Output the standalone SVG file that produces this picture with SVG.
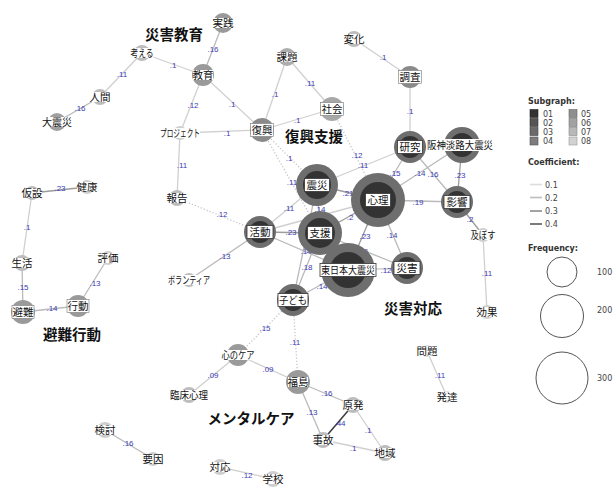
<svg xmlns="http://www.w3.org/2000/svg" width="615" height="488" viewBox="0 0 615 488">
<style>
.e{stroke-width:1.3;fill:none}
.w1{stroke:#d0d0d0}.w2{stroke:#bababa}.w3{stroke:#9c9c9c}.w4{stroke:#3a3a3a;stroke-width:1.5}
.d{stroke:#c4c4c4;stroke-dasharray:1.2 2}
.el{font-family:"Liberation Sans",Arial,sans-serif;font-size:8px;fill:#3c3cb4;text-anchor:middle}
.nl{font-family:"Noto Sans CJK JP",sans-serif;font-size:10.5px;fill:#111;text-anchor:middle}
.g{font-family:"Noto Sans CJK JP",sans-serif;font-weight:bold;font-size:14.5px;fill:#111;text-anchor:middle}
.ro{fill:#6e6e6e}.ri{fill:#333}
.lb{fill:#fff;stroke:#333;stroke-width:0.8}
.lm{fill:#fff;stroke:#777;stroke-width:0.6}
.lw{fill:#fff}
.lg{font-family:"DejaVu Sans",sans-serif;font-size:8px;fill:#444}
.lh{font-family:"DejaVu Sans",sans-serif;font-size:8px;font-weight:bold;fill:#333}
</style>
<g id="edges">
<line class="e w2" x1="223" y1="23" x2="203" y2="75"/>
<line class="e w1" x1="142" y1="53" x2="203" y2="75"/>
<line class="e w1" x1="142" y1="53" x2="100" y2="97"/>
<line class="e w2" x1="100" y1="97" x2="57" y2="122"/>
<line class="e w1" x1="203" y1="75" x2="180" y2="133"/>
<line class="e w1" x1="203" y1="75" x2="262" y2="130"/>
<line class="e w1" x1="180" y1="133" x2="262" y2="130"/>
<line class="e w1" x1="287" y1="57" x2="262" y2="130"/>
<line class="e w1" x1="287" y1="57" x2="332" y2="109"/>
<line class="e w1" x1="332" y1="109" x2="262" y2="130"/>
<line class="e w1" x1="354" y1="39" x2="410" y2="77"/>
<line class="e w1" x1="410" y1="77" x2="410" y2="147"/>
<line class="e w1" x1="180" y1="133" x2="177" y2="198"/>
<line class="e d" x1="177" y1="198" x2="260" y2="232"/>
<line class="e d" x1="262" y1="130" x2="317" y2="185"/>
<line class="e d" x1="262" y1="130" x2="320" y2="233"/>
<line class="e d" x1="332" y1="109" x2="378" y2="200"/>
<line class="e w1" x1="317" y1="185" x2="410" y2="147"/>
<line class="e w3" x1="317" y1="185" x2="378" y2="200"/>
<line class="e w1" x1="260" y1="232" x2="317" y2="185"/>
<line class="e w2" x1="317" y1="185" x2="320" y2="233"/>
<line class="e w3" x1="378" y1="200" x2="320" y2="233"/>
<line class="e w3" x1="260" y1="232" x2="320" y2="233"/>
<line class="e w1" x1="260" y1="232" x2="378" y2="200"/>
<line class="e w3" x1="378" y1="200" x2="348" y2="270"/>
<line class="e w2" x1="378" y1="200" x2="407" y2="268"/>
<line class="e w3" x1="320" y1="233" x2="348" y2="270"/>
<line class="e w2" x1="320" y1="233" x2="407" y2="268"/>
<line class="e w2" x1="260" y1="232" x2="348" y2="270"/>
<line class="e w1" x1="348" y1="270" x2="407" y2="268"/>
<line class="e w2" x1="293" y1="300" x2="317" y2="185"/>
<line class="e w2" x1="293" y1="300" x2="320" y2="233"/>
<line class="e w2" x1="293" y1="300" x2="348" y2="270"/>
<line class="e w2" x1="189" y1="280" x2="260" y2="232"/>
<line class="e w2" x1="378" y1="200" x2="410" y2="147"/>
<line class="e w2" x1="378" y1="200" x2="462" y2="145"/>
<line class="e w2" x1="410" y1="147" x2="457" y2="202"/>
<line class="e w1" x1="410" y1="147" x2="462" y2="145"/>
<line class="e w3" x1="462" y1="145" x2="457" y2="202"/>
<line class="e w2" x1="378" y1="200" x2="457" y2="202"/>
<line class="e w3" x1="457" y1="202" x2="483" y2="235"/>
<line class="e w1" x1="483" y1="235" x2="487" y2="312"/>
<line class="e w3" x1="32" y1="193" x2="87" y2="187"/>
<line class="e w1" x1="32" y1="193" x2="22" y2="263"/>
<line class="e w2" x1="22" y1="263" x2="23" y2="312"/>
<line class="e w2" x1="23" y1="312" x2="78" y2="306"/>
<line class="e w2" x1="78" y1="306" x2="108" y2="258"/>
<line class="e d" x1="293" y1="300" x2="238" y2="355"/>
<line class="e d" x1="293" y1="300" x2="298" y2="382"/>
<line class="e w1" x1="238" y1="355" x2="298" y2="382"/>
<line class="e w1" x1="238" y1="355" x2="189" y2="395"/>
<line class="e w2" x1="298" y1="382" x2="353" y2="405"/>
<line class="e w2" x1="298" y1="382" x2="323" y2="440"/>
<line class="e w4" x1="353" y1="405" x2="323" y2="440"/>
<line class="e w1" x1="353" y1="405" x2="385" y2="453"/>
<line class="e w1" x1="323" y1="440" x2="385" y2="453"/>
<line class="e w1" x1="427" y1="351" x2="447" y2="397"/>
<line class="e w2" x1="105" y1="430" x2="153" y2="459"/>
<line class="e w1" x1="220" y1="467" x2="273" y2="479"/>
<g id="edge-labels">
<text class="el" x="213" y="52">.16</text>
<text class="el" x="173" y="68">.1</text>
<text class="el" x="122" y="77">.11</text>
<text class="el" x="80" y="111">.16</text>
<text class="el" x="193" y="108">.12</text>
<text class="el" x="232" y="107">.1</text>
<text class="el" x="227" y="136">.1</text>
<text class="el" x="275" y="97">.1</text>
<text class="el" x="310" y="86">.11</text>
<text class="el" x="297" y="123">.1</text>
<text class="el" x="383" y="60">.1</text>
<text class="el" x="410" y="114">.1</text>
<text class="el" x="182" y="168">.11</text>
<text class="el" x="222" y="217">.12</text>
<text class="el" x="289" y="161">.1</text>
<text class="el" x="292" y="185">.11</text>
<text class="el" x="357" y="158">.12</text>
<text class="el" x="363" y="168">.11</text>
<text class="el" x="348" y="196">.21</text>
<text class="el" x="289" y="211">.11</text>
<text class="el" x="320" y="212">.14</text>
<text class="el" x="350" y="220">.2</text>
<text class="el" x="291" y="235">.23</text>
<text class="el" x="365" y="239">.23</text>
<text class="el" x="392" y="238">.14</text>
<text class="el" x="334" y="255">.27</text>
<text class="el" x="363" y="254">.16</text>
<text class="el" x="306" y="254">.14</text>
<text class="el" x="386" y="273">.12</text>
<text class="el" x="306" y="245">.13</text>
<text class="el" x="307" y="270">.18</text>
<text class="el" x="322" y="289">.14</text>
<text class="el" x="225" y="259">.13</text>
<text class="el" x="395" y="176">.15</text>
<text class="el" x="420" y="176">.14</text>
<text class="el" x="433" y="177">.16</text>
<text class="el" x="460" y="178">.23</text>
<text class="el" x="418" y="205">.19</text>
<text class="el" x="470" y="222">.2</text>
<text class="el" x="487" y="276">.11</text>
<text class="el" x="60" y="191">.23</text>
<text class="el" x="27" y="230">.1</text>
<text class="el" x="23" y="290">.15</text>
<text class="el" x="52" y="311">.14</text>
<text class="el" x="95" y="286">.13</text>
<text class="el" x="265" y="331">.15</text>
<text class="el" x="295" y="345">.11</text>
<text class="el" x="268" y="372">.09</text>
<text class="el" x="213" y="378">.09</text>
<text class="el" x="327" y="396">.16</text>
<text class="el" x="312" y="415">.13</text>
<text class="el" x="340" y="426">.44</text>
<text class="el" x="368" y="433">.1</text>
<text class="el" x="353" y="451">.1</text>
<text class="el" x="440" y="378">.11</text>
<text class="el" x="128" y="446">.16</text>
<text class="el" x="247" y="478">.12</text>
</g>
</g>
<g id="n-jissen"><circle cx="223" cy="23" r="10" fill="#9a9a9a"/><rect class="lw" x="213" y="18" width="20" height="10"/><text class="nl" x="223" y="23" dy="0.35em">実践</text></g>
<g id="n-kangaeru"><circle cx="142" cy="53" r="8" fill="#bdbdbd"/><rect class="lw" x="130.5" y="48" width="23" height="10"/><text class="nl" x="142" y="53" dy="0.35em" textLength="23" lengthAdjust="spacingAndGlyphs">考える</text></g>
<g id="n-kyoiku"><circle cx="203" cy="75" r="11" fill="#9a9a9a"/><rect class="lw" x="193" y="70" width="20" height="10"/><text class="nl" x="203" y="75" dy="0.35em">教育</text></g>
<g id="n-ningen"><circle cx="100" cy="97" r="8" fill="#bdbdbd"/><rect class="lw" x="90" y="92" width="20" height="10"/><text class="nl" x="100" y="97" dy="0.35em">人間</text></g>
<g id="n-daishinsai"><circle cx="57" cy="122" r="9" fill="#a0a0a0"/><rect class="lw" x="42" y="117" width="30" height="10"/><text class="nl" x="57" y="122" dy="0.35em" textLength="30" lengthAdjust="spacingAndGlyphs">大震災</text></g>
<g id="n-kadai"><circle cx="287" cy="57" r="9" fill="#adadad"/><rect class="lw" x="277" y="52" width="20" height="10"/><text class="nl" x="287" y="57" dy="0.35em">課題</text></g>
<g id="n-henka"><circle cx="354" cy="39" r="8" fill="#bdbdbd"/><rect class="lw" x="344" y="34" width="20" height="10"/><text class="nl" x="354" y="39" dy="0.35em">変化</text></g>
<g id="n-shakai"><circle cx="332" cy="109" r="12" fill="#a8a8a8"/><rect class="lm" x="320.5" y="102.5" width="23" height="13"/><text class="nl" x="332" y="109" dy="0.35em">社会</text></g>
<g id="n-chosa"><circle cx="410" cy="77" r="11" fill="#8a8a8a"/><rect class="lm" x="398.5" y="70.5" width="23" height="13"/><text class="nl" x="410" y="77" dy="0.35em">調査</text></g>
<g id="n-project"><circle cx="180" cy="133" r="7" fill="#cfcfcf"/><rect class="lw" x="160" y="128" width="40" height="10"/><text class="nl" x="180" y="133" dy="0.35em" textLength="40" lengthAdjust="spacingAndGlyphs">プロジェクト</text></g>
<g id="n-fukko"><circle cx="262" cy="130" r="12" fill="#8a8a8a"/><rect class="lm" x="250.5" y="123.5" width="23" height="13"/><text class="nl" x="262" y="130" dy="0.35em">復興</text></g>
<g id="n-kenkyu"><circle class="ro" cx="410" cy="147" r="16"/><circle class="ri" cx="410" cy="147" r="11"/><rect class="lb" x="397.5" y="140.5" width="25" height="13"/><text class="nl" x="410" y="147" dy="0.35em">研究</text></g>
<g id="n-hanshin"><circle class="ro" cx="462" cy="145" r="18"/><circle class="ri" cx="462" cy="145" r="12"/><rect class="lw" x="426" y="139" width="68" height="12"/><text class="nl" x="460" y="145" dy="0.35em" textLength="66" lengthAdjust="spacingAndGlyphs">阪神淡路大震災</text></g>
<g id="n-hokoku"><circle cx="177" cy="198" r="8" fill="#bdbdbd"/><rect class="lw" x="167" y="193" width="20" height="10"/><text class="nl" x="177" y="198" dy="0.35em">報告</text></g>
<g id="n-shinsai"><circle class="ro" cx="317" cy="185" r="21"/><circle class="ri" cx="317" cy="185" r="14"/><rect class="lb" x="304.5" y="178.5" width="25" height="13"/><text class="nl" x="317" y="185" dy="0.35em">震災</text></g>
<g id="n-shinri"><circle class="ro" cx="378" cy="200" r="27"/><circle class="ri" cx="378" cy="200" r="18"/><rect class="lb" x="365.5" y="193.5" width="25" height="13"/><text class="nl" x="378" y="200" dy="0.35em">心理</text></g>
<g id="n-eikyo"><circle class="ro" cx="457" cy="202" r="16"/><circle class="ri" cx="457" cy="202" r="11"/><rect class="lb" x="444" y="195.5" width="26" height="13"/><text class="nl" x="457" y="202" dy="0.35em">影響</text></g>
<g id="n-kasetsu"><circle cx="32" cy="193" r="7" fill="#bdbdbd"/><rect class="lw" x="22" y="188" width="20" height="10"/><text class="nl" x="32" y="193" dy="0.35em">仮設</text></g>
<g id="n-kenko"><circle cx="87" cy="187" r="7" fill="#cfcfcf"/><rect class="lw" x="77" y="182" width="20" height="10"/><text class="nl" x="87" y="187" dy="0.35em">健康</text></g>
<g id="n-katsudo"><circle class="ro" cx="260" cy="232" r="16"/><circle class="ri" cx="260" cy="232" r="11"/><rect class="lb" x="247" y="225.5" width="26" height="13"/><text class="nl" x="260" y="232" dy="0.35em">活動</text></g>
<g id="n-shien"><circle class="ro" cx="320" cy="233" r="22"/><circle class="ri" cx="320" cy="233" r="15"/><rect class="lb" x="307.5" y="226.5" width="25" height="13"/><text class="nl" x="320" y="233" dy="0.35em">支援</text></g>
<g id="n-oyobosu"><circle cx="483" cy="235" r="7" fill="#cfcfcf"/><rect class="lw" x="470.5" y="230" width="25" height="10"/><text class="nl" x="483" y="235" dy="0.35em" textLength="25" lengthAdjust="spacingAndGlyphs">及ぼす</text></g>
<g id="n-seikatsu"><circle cx="22" cy="263" r="8" fill="#bdbdbd"/><rect class="lw" x="12" y="258" width="20" height="10"/><text class="nl" x="22" y="263" dy="0.35em">生活</text></g>
<g id="n-hyoka"><circle cx="108" cy="258" r="7" fill="#cfcfcf"/><rect class="lw" x="98" y="253" width="20" height="10"/><text class="nl" x="108" y="258" dy="0.35em">評価</text></g>
<g id="n-volunteer"><circle cx="189" cy="280" r="7" fill="#bdbdbd"/><rect class="lw" x="167.5" y="275" width="43" height="10"/><text class="nl" x="189" y="280" dy="0.35em" textLength="42" lengthAdjust="spacingAndGlyphs">ボランティア</text></g>
<g id="n-higashinihon"><circle class="ro" cx="348" cy="270" r="27"/><circle class="ri" cx="348" cy="270" r="18"/><rect class="lb" x="320" y="263.5" width="56" height="13"/><text class="nl" x="348" y="270" dy="0.35em" textLength="54" lengthAdjust="spacingAndGlyphs">東日本大震災</text></g>
<g id="n-saigai"><circle class="ro" cx="407" cy="268" r="16"/><circle class="ri" cx="407" cy="268" r="11"/><rect class="lb" x="394" y="261.5" width="26" height="13"/><text class="nl" x="407" y="268" dy="0.35em">災害</text></g>
<g id="n-kodomo"><circle class="ro" cx="293" cy="300" r="16"/><circle class="ri" cx="293" cy="300" r="11"/><rect class="lb" x="278" y="293.5" width="30" height="13"/><text class="nl" x="293" y="300" dy="0.35em" textLength="28" lengthAdjust="spacingAndGlyphs">子ども</text></g>
<g id="n-hinan"><circle cx="23" cy="312" r="12" fill="#9a9a9a"/><rect class="lm" x="12" y="305.5" width="22" height="13"/><text class="nl" x="23" y="312" dy="0.35em">避難</text></g>
<g id="n-kodo"><circle cx="78" cy="306" r="11" fill="#9a9a9a"/><rect class="lm" x="67" y="299.5" width="22" height="13"/><text class="nl" x="78" y="306" dy="0.35em">行動</text></g>
<g id="n-koka"><circle cx="487" cy="312" r="7" fill="#cfcfcf"/><rect class="lw" x="477" y="307" width="20" height="10"/><text class="nl" x="487" y="312" dy="0.35em">効果</text></g>
<g id="n-kokoronocare"><circle cx="238" cy="355" r="11" fill="#9a9a9a"/><rect class="lw" x="221.5" y="350" width="33" height="10"/><text class="nl" x="238" y="355" dy="0.35em" textLength="33" lengthAdjust="spacingAndGlyphs">心のケア</text></g>
<g id="n-mondai"><circle cx="427" cy="351" r="6" fill="#dedede"/><rect class="lw" x="417" y="346" width="20" height="10"/><text class="nl" x="427" y="351" dy="0.35em">問題</text></g>
<g id="n-rinsho"><circle cx="189" cy="395" r="8" fill="#bdbdbd"/><rect class="lw" x="170" y="390" width="38" height="10"/><text class="nl" x="189" y="395" dy="0.35em" textLength="38" lengthAdjust="spacingAndGlyphs">臨床心理</text></g>
<g id="n-fukushima"><circle cx="298" cy="382" r="12" fill="#9a9a9a"/><rect class="lw" x="288" y="377" width="20" height="10"/><text class="nl" x="298" y="382" dy="0.35em">福島</text></g>
<g id="n-genpatsu"><circle cx="353" cy="405" r="8" fill="#bdbdbd"/><rect class="lw" x="343" y="400" width="20" height="10"/><text class="nl" x="353" y="405" dy="0.35em">原発</text></g>
<g id="n-hattatsu"><circle cx="447" cy="397" r="6" fill="#dedede"/><rect class="lw" x="437" y="392" width="20" height="10"/><text class="nl" x="447" y="397" dy="0.35em">発達</text></g>
<g id="n-jiko"><circle cx="323" cy="440" r="8" fill="#bdbdbd"/><rect class="lw" x="313" y="435" width="20" height="10"/><text class="nl" x="323" y="440" dy="0.35em">事故</text></g>
<g id="n-chiiki"><circle cx="385" cy="453" r="8" fill="#bdbdbd"/><rect class="lw" x="375" y="448" width="20" height="10"/><text class="nl" x="385" y="453" dy="0.35em">地域</text></g>
<g id="n-kento"><circle cx="105" cy="430" r="8" fill="#cfcfcf"/><rect class="lw" x="95" y="425" width="20" height="10"/><text class="nl" x="105" y="430" dy="0.35em">検討</text></g>
<g id="n-yoin"><circle cx="153" cy="459" r="7" fill="#cfcfcf"/><rect class="lw" x="143" y="454" width="20" height="10"/><text class="nl" x="153" y="459" dy="0.35em">要因</text></g>
<g id="n-taio"><circle cx="220" cy="467" r="8" fill="#cfcfcf"/><rect class="lw" x="210" y="462" width="20" height="10"/><text class="nl" x="220" y="467" dy="0.35em">対応</text></g>
<g id="n-gakko"><circle cx="273" cy="479" r="8" fill="#cfcfcf"/><rect class="lw" x="263" y="474" width="20" height="10"/><text class="nl" x="273" y="479" dy="0.35em">学校</text></g>
<g id="group-labels">
<text class="g" x="174" y="40">災害教育</text>
<text class="g" x="314" y="142">復興支援</text>
<text class="g" x="72" y="340">避難行動</text>
<text class="g" x="413" y="314">災害対応</text>
<text class="g" x="251" y="424">メンタルケア</text>
</g>
<g id="legend">
<text class="lh" x="528" y="104">Subgraph:</text>
<rect x="530" y="109.5" width="8" height="8" fill="#333" stroke="#222" stroke-width="0.6"/><text class="lg" x="543" y="116.5">01</text>
<rect x="530" y="118.5" width="8" height="8" fill="#555" stroke="#333" stroke-width="0.6"/><text class="lg" x="543" y="125.5">02</text>
<rect x="530" y="127.5" width="8" height="8" fill="#6a6a6a" stroke="#444" stroke-width="0.6"/><text class="lg" x="543" y="134.5">03</text>
<rect x="530" y="137" width="8" height="8" fill="#7d7d7d" stroke="#555" stroke-width="0.6"/><text class="lg" x="543" y="144">04</text>
<rect x="569" y="109.5" width="8" height="8" fill="#8e8e8e" stroke="#666" stroke-width="0.6"/><text class="lg" x="581" y="116.5">05</text>
<rect x="569" y="118.5" width="8" height="8" fill="#a2a2a2" stroke="#777" stroke-width="0.6"/><text class="lg" x="581" y="125.5">06</text>
<rect x="569" y="127.5" width="8" height="8" fill="#b8b8b8" stroke="#888" stroke-width="0.6"/><text class="lg" x="581" y="134.5">07</text>
<rect x="569" y="137" width="8" height="8" fill="#d2d2d2" stroke="#999" stroke-width="0.6"/><text class="lg" x="581" y="144">08</text>
<text class="lh" x="528" y="165">Coefficient:</text>
<line x1="530" y1="184.5" x2="542" y2="184.5" stroke="#dcdcdc" stroke-width="1.6"/><text class="lg" x="545" y="187.5">0.1</text>
<line x1="530" y1="197.5" x2="542" y2="197.5" stroke="#bcbcbc" stroke-width="1.6"/><text class="lg" x="545" y="200.5">0.2</text>
<line x1="530" y1="211" x2="542" y2="211" stroke="#8c8c8c" stroke-width="1.6"/><text class="lg" x="545" y="214">0.3</text>
<line x1="530" y1="224" x2="542" y2="224" stroke="#5a5a5a" stroke-width="1.6"/><text class="lg" x="545" y="227">0.4</text>
<text class="lh" x="528" y="250.5">Frequency:</text>
<circle cx="562" cy="272" r="15" fill="none" stroke="#555" stroke-width="1"/><text class="lg" x="597" y="275">100</text>
<circle cx="562" cy="316" r="21.5" fill="none" stroke="#555" stroke-width="1"/><text class="lg" x="597" y="313">200</text>
<circle cx="562" cy="378" r="26" fill="none" stroke="#555" stroke-width="1"/><text class="lg" x="597" y="381">300</text>
</g>
</svg>
